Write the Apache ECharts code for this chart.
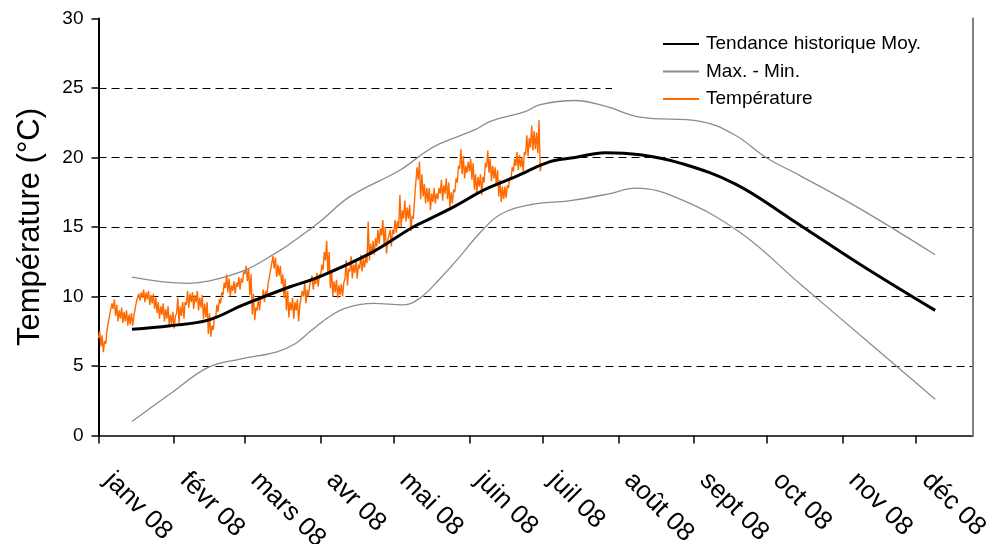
<!DOCTYPE html>
<html><head><meta charset="utf-8">
<script src="https://cdn.jsdelivr.net/npm/echarts@6/dist/echarts.min.js"></script>
<style>html,body{margin:0;padding:0;background:#fff}#c{width:996px;height:544px}</style>
</head><body><div id="c"></div>
<script>
// x values are days since 1 Jan 2008
const monthStarts = [0,31,60,91,121,152,182,213,244,274,305,335];
const monthLabels = ['janv 08','févr 08','mars 08','avr 08','mai 08','juin 08','juil 08','août 08','sept 08','oct 08','nov 08','déc 08'];

const trendDays   = [13.7,29.4,44.9,59.3,78.5,88.8,111.3,128.9,135.9,146.1,158.4,170.7,185.0,195.3,207.6,221.9,238.3,260.8,283.4,312.1,342.8];
const trendValues = [7.64,7.9,8.3,9.4,10.7,11.3,13.1,15.0,15.6,16.5,17.7,18.6,19.7,20.0,20.35,20.2,19.6,18.1,15.6,12.3,9.0];

const maxDays   = [13.7,36.8,44.9,60.1,72.4,78.5,90.8,103.1,123.6,133.9,139.9,154.3,160.5,174.8,181.0,195.3,207.6,221.9,246.6,260.9,273.5,287.4,312.1,342.8];
const maxValues = [11.4,10.95,11.1,11.9,13.1,13.8,15.4,17.2,19.1,20.4,21.0,22.0,22.6,23.3,23.8,24.1,23.7,22.9,22.6,21.6,20.0,18.7,16.3,13.0];

const minDays   = [13.7,29.4,44.9,58.0,72.8,80.6,86.8,95.0,101.9,112.6,124.9,131.8,140.0,148.2,156.4,164.6,176.9,193.3,209.6,219.9,238.3,262.9,287.5,316.2,342.8];
const minValues = [1.0,3.0,4.9,5.5,6.0,6.6,7.5,8.6,9.2,9.5,9.4,9.9,11.3,12.9,14.6,15.9,16.6,16.9,17.4,17.8,17.0,14.6,10.9,6.6,2.6];

// daily band of the measured temperature (upper and lower edge), from day 0 (1 Jan)
const tempHigh = [7.5,7.2,6.8,7.6,8.6,9.5,9.8,9.4,9.0,9.2, 8.9,9.0,8.7,8.8,8.6,9.6,10.2,10.3,10.5,10.3,
 10.4,10.1,10.2,9.9,9.6,9.3,9.5,9.1,9.3,8.7, 8.9,8.6,9.9,9.3,9.6,9.6,10.4,10.2,10.3,10.1,
 10.4,9.9,10.1,9.5,9.6,8.8,7.9,8.6,9.4,9.8, 10.3,11.0,11.6,11.3,10.8,11.1,11.0,11.4,11.3,11.8,
 12.2,12.0,11.6,10.2,9.2,9.9,10.0,10.5,10.4,10.9, 11.9,12.9,12.8,12.3,12.2,11.6,11.3,10.4,9.6,9.9,
 9.6,9.8,9.4,10.4,11.0,10.5,10.8,11.5,11.3,11.7, 11.6,12.3,13.2,14.0,13.2,11.9,11.1,11.2,10.8,10.9,
 11.0,12.6,12.0,12.9,12.3,12.6,12.3,13.0,12.7,12.9, 15.4,13.8,14.0,14.2,14.8,14.9,15.5,15.0,14.0,14.8,
 14.8,15.5,15.4,17.3,16.2,16.9,16.4,16.6,15.8,17.0, 19.3,19.7,18.8,18.1,17.8,17.8,17.4,17.8,17.4,17.8,
 18.4,18.0,18.5,18.2,17.5,17.7,18.5,19.4,20.6,20.1, 19.4,19.7,19.9,19.6,18.8,18.6,18.8,18.6,19.6,20.5,
 19.9,19.4,19.3,19.1,18.4,17.9,17.9,18.0,18.6,19.3, 19.9,20.4,20.2,20.0,20.4,21.6,21.4,22.3,21.9,21.8,
 22.7,19.6];
const tempLow = [7.0,6.4,6.0,6.6,7.6,8.6,9.1,8.6,8.2,8.4, 8.1,8.2,7.9,8.0,7.9,8.6,9.5,9.7,9.9,9.6,
 9.8,9.4,9.5,9.1,8.8,8.4,8.7,8.2,8.4,7.9, 8.0,7.7,8.8,8.1,8.6,8.4,9.4,9.2,9.6,9.1,
 9.6,9.0,9.2,8.4,8.5,7.3,7.1,7.6,8.4,8.9, 9.5,10.1,10.6,10.3,10.0,10.4,10.2,10.7,10.5,11.0,
 11.6,11.1,10.1,8.7,8.3,9.0,9.0,9.8,9.6,10.1, 10.8,11.8,12.0,11.4,11.5,10.9,9.9,9.0,8.5,9.0,
 8.4,9.0,8.2,9.3,10.0,9.5,10.0,10.8,10.5,10.9, 10.7,11.4,11.9,12.6,11.6,10.6,10.0,10.3,9.9,10.1,
 10.0,11.3,10.8,11.8,11.3,11.7,11.3,12.0,11.8,12.1, 12.4,12.6,13.0,13.0,13.6,13.8,14.4,13.7,13.1,13.9,
 13.6,14.5,14.6,15.0,15.0,15.6,15.4,15.6,14.7,15.6, 17.0,18.4,17.0,17.2,16.7,16.8,16.2,16.8,16.7,17.0,
 17.4,16.9,17.4,17.0,16.4,16.7,17.5,18.2,19.2,18.8, 18.5,18.9,19.0,18.4,17.7,17.4,17.9,17.3,18.2,19.3,
 18.9,18.3,18.5,18.0,17.2,16.8,17.0,17.1,17.8,18.4, 19.0,19.4,19.1,19.3,19.0,20.2,20.1,20.7,20.5,20.6,
 20.3,19.0];

const pairs = (xs, ys) => xs.map((x, i) => [x, ys[i]]);
const tempData = [];
tempLow.forEach((lo, d) => { tempData.push([d, lo]); tempData.push([d + 0.5, tempHigh[d]]); });

const FONT = 'Liberation Sans, Arial, sans-serif';
const chart = echarts.init(document.getElementById('c'), null, {renderer: 'canvas'});
chart.setOption({
  animation: false,
  backgroundColor: '#fff',
  textStyle: {fontFamily: FONT},
  grid: {left: 98.5, right: 23, top: 18.5, bottom: 108.5, containLabel: false, outerBoundsMode: 'none'},
  legend: {
    data: ['Tendance historique Moy.', 'Max. - Min.', 'Température'],
    orient: 'vertical', left: 612, top: 26.5,
    padding: [8, 56, 0, 50],
    itemWidth: 36, itemHeight: 19, itemGap: 8.5,
    backgroundColor: '#fff', z: 1,
    itemStyle: {opacity: 0},
    textStyle: {fontSize: 19, color: '#000', fontFamily: FONT, padding: [0, 0, 0, 2]},
    selectedMode: false
  },
  xAxis: {
    type: 'value', min: 0, max: 358.3,
    axisLine: {onZero: false, lineStyle: {color: '#000', width: 1.5}},
    splitLine: {show: false},
    axisTick: {customValues: monthStarts, length: 8, lineStyle: {color: '#000', width: 1.5}},
    axisLabel: {customValues: monthStarts, rotate: -45, margin: 31, fontSize: 26, color: '#000', fontFamily: FONT,
      padding: [0, 0, 0, 14],
      formatter: v => monthLabels[monthStarts.indexOf(v)] || ''}
  },
  yAxis: [{
    type: 'value', min: 0, max: 30, interval: 5,
    name: 'Température (°C)', nameLocation: 'middle', nameGap: 53,
    nameTextStyle: {fontSize: 31, color: '#000', fontFamily: FONT},
    axisLine: {show: true, lineStyle: {color: '#000', width: 2}},
    axisTick: {show: true, inside: false, length: 7, lineStyle: {color: '#000', width: 1.5}},
    axisLabel: {fontSize: 19, color: '#000', margin: 15, fontFamily: FONT},
    splitLine: {show: true, showMinLine: false, showMaxLine: false, lineStyle: {type: [8, 5], color: '#000', width: 1}}
  }, {
    type: 'value', min: 0, max: 30, interval: 5, position: 'right', z: 5,
    axisLine: {show: true, lineStyle: {color: '#808080', width: 2}},
    axisTick: {show: false}, axisLabel: {show: false}, splitLine: {show: false}
  }],
  series: [
    {name: 'Température', type: 'line', data: tempData, symbol: 'none', z: 2,
     lineStyle: {color: '#ff6a00', width: 1.4}, itemStyle: {color: '#ff6a00'}},
    {name: 'Max. - Min.', type: 'line', data: pairs(maxDays, maxValues), symbol: 'none', smooth: 0.4, z: 3,
     lineStyle: {color: '#8c8c8c', width: 1.3}, itemStyle: {color: '#8c8c8c'}},
    {name: 'Max. - Min.', type: 'line', data: pairs(minDays, minValues), symbol: 'none', smooth: 0.4, z: 3,
     lineStyle: {color: '#8c8c8c', width: 1.3}, itemStyle: {color: '#8c8c8c'}},
    {name: 'Tendance historique Moy.', type: 'line', data: pairs(trendDays, trendValues), symbol: 'none', smooth: 0.4, z: 4,
     lineStyle: {color: '#000', width: 3}, itemStyle: {color: '#000'}}
  ]
});
</script></body></html>
